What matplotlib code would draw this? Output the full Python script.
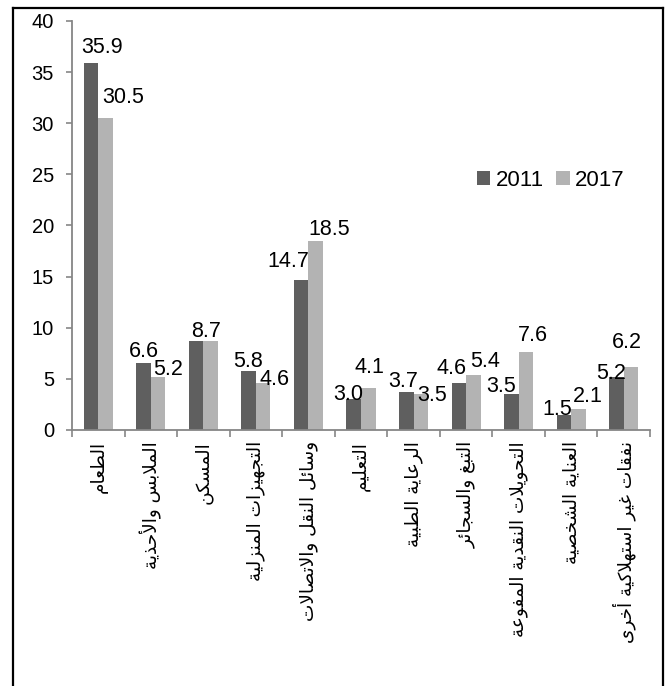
import matplotlib
matplotlib.use("Agg")
import matplotlib.pyplot as plt
from matplotlib.patches import Patch
from matplotlib.lines import Line2D
import numpy as np

# ---------------- data ----------------
categories = ['الطعام', 'الملابس والأحذية', 'المسكن', 'التجهيزات المنزلية',
              'وسائل النقل والاتصالات', 'التعليم', 'الرعاية الطبية',
              'التبغ والسجائر', 'التحويلات النقدية المفوعة',
              'العناية الشخصية', 'نفقات غير استهلاكية أخرى']
series_names = ['2011', '2017']
values_2011 = [35.9, 6.6, 8.7, 5.8, 14.7, 3.0, 3.7, 4.6, 3.5, 1.5, 5.2]
values_2017 = [30.5, 5.2, 8.7, 4.6, 18.5, 4.1, 3.5, 5.4, 7.6, 2.1, 6.2]
y_ticks = [0, 5, 10, 15, 20, 25, 30, 35, 40]

# label nudges (pixels: dx, dy above bar top)
nudge_2011 = [(10.7, 10), (0.5, 5.5), (10.2, 4), (-1, 4), (-12.7, 13), (-6, -1),
              (-3, 5), (-7.3, 9), (-10, 2), (-7, 0), (-5, -2)]
nudge_2017 = [(17.7, 15), (10, 2), (-4.4, 4), (11, -2), (13.7, 6), (1, 15),
              (11, -7), (11.6, 8), (6.5, 11.6), (9, 7), (-4.4, 18.6)]

# ---------------- minimal Arabic shaping ----------------
_F = {
    '\u0621': ('\uFE80',),
    '\u0622': ('\uFE81', '\uFE82'),
    '\u0623': ('\uFE83', '\uFE84'),
    '\u0624': ('\uFE85', '\uFE86'),
    '\u0625': ('\uFE87', '\uFE88'),
    '\u0626': ('\uFE89', '\uFE8A', '\uFE8B', '\uFE8C'),
    '\u0627': ('\uFE8D', '\uFE8E'),
    '\u0628': ('\uFE8F', '\uFE90', '\uFE91', '\uFE92'),
    '\u0629': ('\uFE93', '\uFE94'),
    '\u062A': ('\uFE95', '\uFE96', '\uFE97', '\uFE98'),
    '\u062B': ('\uFE99', '\uFE9A', '\uFE9B', '\uFE9C'),
    '\u062C': ('\uFE9D', '\uFE9E', '\uFE9F', '\uFEA0'),
    '\u062D': ('\uFEA1', '\uFEA2', '\uFEA3', '\uFEA4'),
    '\u062E': ('\uFEA5', '\uFEA6', '\uFEA7', '\uFEA8'),
    '\u062F': ('\uFEA9', '\uFEAA'),
    '\u0630': ('\uFEAB', '\uFEAC'),
    '\u0631': ('\uFEAD', '\uFEAE'),
    '\u0632': ('\uFEAF', '\uFEB0'),
    '\u0633': ('\uFEB1', '\uFEB2', '\uFEB3', '\uFEB4'),
    '\u0634': ('\uFEB5', '\uFEB6', '\uFEB7', '\uFEB8'),
    '\u0635': ('\uFEB9', '\uFEBA', '\uFEBB', '\uFEBC'),
    '\u0636': ('\uFEBD', '\uFEBE', '\uFEBF', '\uFEC0'),
    '\u0637': ('\uFEC1', '\uFEC2', '\uFEC3', '\uFEC4'),
    '\u0638': ('\uFEC5', '\uFEC6', '\uFEC7', '\uFEC8'),
    '\u0639': ('\uFEC9', '\uFECA', '\uFECB', '\uFECC'),
    '\u063A': ('\uFECD', '\uFECE', '\uFECF', '\uFED0'),
    '\u0641': ('\uFED1', '\uFED2', '\uFED3', '\uFED4'),
    '\u0642': ('\uFED5', '\uFED6', '\uFED7', '\uFED8'),
    '\u0643': ('\uFED9', '\uFEDA', '\uFEDB', '\uFEDC'),
    '\u0644': ('\uFEDD', '\uFEDE', '\uFEDF', '\uFEE0'),
    '\u0645': ('\uFEE1', '\uFEE2', '\uFEE3', '\uFEE4'),
    '\u0646': ('\uFEE5', '\uFEE6', '\uFEE7', '\uFEE8'),
    '\u0647': ('\uFEE9', '\uFEEA', '\uFEEB', '\uFEEC'),
    '\u0648': ('\uFEED', '\uFEEE'),
    '\u0649': ('\uFEEF', '\uFEF0'),
    '\u064A': ('\uFEF1', '\uFEF2', '\uFEF3', '\uFEF4'),
}
_LA = {'\u0622': ('\uFEF5', '\uFEF6'), '\u0623': ('\uFEF7', '\uFEF8'),
       '\u0625': ('\uFEF9', '\uFEFA'), '\u0627': ('\uFEFB', '\uFEFC')}


def shape_ar(text):
    toks = []
    i = 0
    while i < len(text):
        c = text[i]
        if c == '\u0644' and i + 1 < len(text) and text[i + 1] in _LA:
            toks.append(_LA[text[i + 1]])
            i += 2
            continue
        toks.append(_F.get(c, c))
        i += 1
    out = []
    for k, t in enumerate(toks):
        if isinstance(t, str):
            out.append(t)
            continue
        prev = toks[k - 1] if k > 0 else None
        nxt = toks[k + 1] if k + 1 < len(toks) else None
        cp = isinstance(prev, tuple) and len(prev) == 4 and len(t) > 1
        cn = len(t) == 4 and isinstance(nxt, tuple) and len(nxt) > 1
        if cp and cn:
            out.append(t[3])
        elif cp:
            out.append(t[1])
        elif cn:
            out.append(t[2])
        else:
            out.append(t[0])
    return ''.join(out)[::-1]


# ---------------- figure ----------------
plt.rcParams['font.family'] = ['Liberation Sans', 'DejaVu Sans']
fig = plt.figure(figsize=(6.72, 6.86), dpi=100)
W, H = 672, 686
ax = fig.add_axes([72 / W, 1 - 430 / H, (650 - 72) / W, (430 - 21) / H])

dark = '#5f5f5f'
light = '#b3b3b3'
bw = 0.276
x = np.arange(len(categories))
ax.bar(x - bw / 2, values_2011, bw, color=dark, label=series_names[0], zorder=2)
ax.bar(x + bw / 2, values_2017, bw, color=light, label=series_names[1], zorder=2)

px2pt = 72 / 100
for i in range(len(categories)):
    items = [(x[i] - bw / 2, values_2011[i], nudge_2011[i]),
             (x[i] + bw / 2, values_2017[i], nudge_2017[i])]
    if values_2011[i] == values_2017[i]:
        items = items[1:]          # identical values share one label
    for xx, v, nd in items:
        ax.annotate(f'{v:.1f}', xy=(xx, v), xytext=(nd[0] * px2pt, nd[1] * px2pt),
                    textcoords='offset points', ha='center', va='baseline',
                    fontsize=15.5, color='black', zorder=3)

ax.set_xlim(-0.5, len(categories) - 0.5)
ax.set_ylim(0, 40)
ax.set_yticks(y_ticks)
ax.set_yticklabels([str(t) for t in y_ticks])

spine_c = '#868686'
for s in ['top', 'right']:
    ax.spines[s].set_visible(False)
for s in ['left', 'bottom']:
    ax.spines[s].set_color(spine_c)
    ax.spines[s].set_linewidth(1.3)

ax.tick_params(axis='y', direction='out', length=4, width=1.2, color=spine_c,
               labelsize=14.5, pad=9)
ax.set_xticks(x)
ax.set_xticklabels([shape_ar(c) for c in categories], rotation=90,
                   fontfamily='DejaVu Sans', fontsize=13.3, va='top', ha='center')
ax.tick_params(axis='x', length=0, pad=8)
ax.set_xticks(np.arange(-0.5, len(categories), 1.0), minor=True)
ax.tick_params(axis='x', which='minor', direction='out', length=5, width=1.2,
               color=spine_c)

handles = [Patch(facecolor=dark, label=series_names[0]),
           Patch(facecolor=light, label=series_names[1])]
fig.legend(handles=handles, loc='center left', bbox_to_anchor=(477 / W, 1 - 180 / H),
           bbox_transform=fig.transFigure, ncol=2, frameon=False, fontsize=16,
           handlelength=0.6, handleheight=0.6, handletextpad=0.25,
           columnspacing=0.55, borderpad=0, borderaxespad=0)

# outer border (bottom edge runs off the image)
bl, br, bt = 13 / W, 663 / W, 1 - 8 / H
for xs, ys in (([bl, bl], [bt, -0.1]), ([br, br], [bt, -0.1]), ([bl, br], [bt, bt])):
    fig.add_artist(Line2D(xs, ys, transform=fig.transFigure, color='black',
                          linewidth=1.6, solid_capstyle='projecting'))

fig.savefig('out.png', dpi=100)
